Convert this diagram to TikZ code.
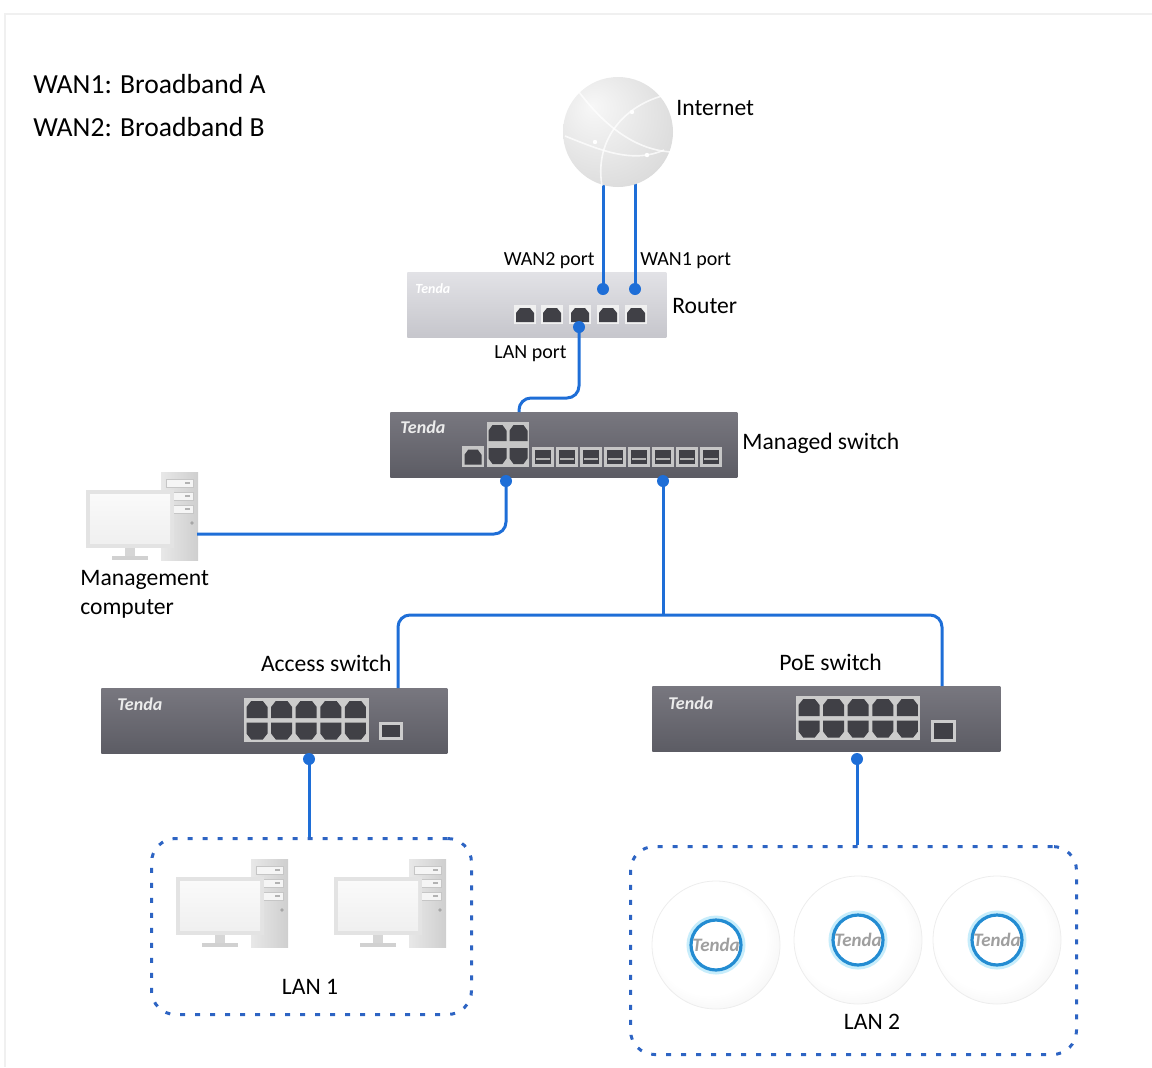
\documentclass[tikz,border=0pt]{standalone}
\usepackage{fontspec}
\setmainfont{Carlito}
\usetikzlibrary{positioning}
\definecolor{wire}{RGB}{30,110,215}
\definecolor{lanline}{RGB}{45,100,195}
\definecolor{porthole}{RGB}{64,64,70}
\definecolor{swtop}{RGB}{120,119,127}
\definecolor{swbot}{RGB}{92,92,100}
\definecolor{rttop}{RGB}{226,226,230}
\definecolor{rtbot}{RGB}{198,198,204}
\definecolor{apring}{RGB}{35,140,210}
\pgfdeclareradialshading{globeshade}{\pgfpoint{-12bp}{12bp}}{color(0bp)=(gray!6); color(14bp)=(gray!15); color(42bp)=(gray!33); color(70bp)=(gray!52)}
\pgfdeclareradialshading{apshade}{\pgfpoint{-4bp}{4bp}}{color(0bp)=(white); color(22bp)=(white); color(50bp)=(gray!28); color(60bp)=(gray!30)}
\tikzset{link/.style = {draw = wire, line width = 1.5pt, rounded corners = 6pt}}
\tikzset{circ/.style = {fill = wire, circle, inner sep = 0, minimum size = 6pt}}
\tikzset{lbl/.style = {font = \fontsize{11.8}{14}\selectfont, inner sep = 0}}
\tikzset{smalllbl/.style = {font = \fontsize{10}{12}\selectfont, inner sep = 0}}
\tikzset{legend/.style = {font = \fontsize{13.8}{16}\selectfont, inner sep = 0, anchor = base west}}
\tikzset{lanbox/.style = {rectangle, anchor = north west, inner sep = 0, draw = lanline, line width = 1.5pt,
                          dash pattern = on 2.5pt off 5pt, rounded corners = 12pt}}
\tikzset{router/.style = {rectangle, anchor = north west, top color = rttop, bottom color = rtbot,
                          minimum width = 129.5pt, minimum height = 32.5pt, inner sep = 0}}
\tikzset{switch/.style = {rectangle, anchor = north west, top color = swtop, bottom color = swbot,
                          minimum height = 32.5pt, inner sep = 0}}
\tikzset{logo/.style = {font = \fontsize{9}{10}\selectfont\itshape\bfseries, text = white!85!gray,
                        inner sep = 0, anchor = north west}}
\tikzset{globe/.style = {circle, minimum size = 55pt, inner sep = 0, shade, shading = globeshade}}
\tikzset{ap/.style = {circle, minimum size = 64pt, inner sep = 0, shade, shading = apshade, draw = gray!14}}
\tikzset{apcore/.style = {circle, minimum size = 25pt, inner sep = 0, draw = apring, line width = 1.6pt,
                          font = \fontsize{9.5}{10}\selectfont\itshape\bfseries, text = gray!75}}

\newcommand{\rjport}[4]{\fill [porthole] (#1 - #3, #2 + #4) -- (#1 - #3, #2 - 0.3*#4) -- (#1 - 0.55*#3, #2 - #4)
  -- (#1 + 0.55*#3, #2 - #4) -- (#1 + #3, #2 - 0.3*#4) -- (#1 + #3, #2 + #4) -- cycle;}
\newcommand{\deskpc}[2]{%
  \begin{scope}[shift = {(#1, #2)}]
    \shade [left color = gray!18, right color = gray!38] (75, -18) rectangle (112, 70);
    \foreach \b in {-11, 2, 15} {
      \draw [gray!45, fill = white!92!gray] (80, \b) rectangle (107, \b + 8);
      \draw [gray!60, line width = 0.8pt] (99, \b + 4) -- (104, \b + 4);
    }
    \fill [gray!70] (106, 33) circle [radius = 1.8];
    \fill [gray!22] (0, 0) rectangle (88, 58);
    \shade [top color = gray!4, bottom color = gray!12] (4, 4) rectangle (84, 53);
    \fill [gray!32] (39, 58) rectangle (49, 66);
    \fill [gray!36] (26, 66) rectangle (62, 70);
  \end{scope}}

\begin{document}
\begin{tikzpicture}[x = 0.5pt, y = -0.5pt]
      \useasboundingbox (0, 0) rectangle (1152, 1067);
      \draw [gray!12, line width = 1pt] (5, 1067) -- (5, 14) -- (1152, 14);

      \node [legend] (wan1txt) at (33, 93) {WAN1: Broadband A};
      \node [legend] (wan2txt) at (33, 136) {WAN2: Broadband B};

      \node [router] (router) at (407, 272) {};
      \node [logo, font = \fontsize{7}{8}\selectfont\itshape\bfseries, text = white] (rtlogo) at (415, 283) {Tenda};
      \foreach \x in {525, 552, 580, 608, 636} {
        \fill [white!88!gray] (\x - 11, 305) rectangle (\x + 11, 324);
        \rjport{\x}{315}{9}{7}
      }

      \node [switch, minimum width = 173.5pt] (mansw) at (390, 412) {};
      \node [logo] (manlogo) at (400, 420) {Tenda};
      \fill [gray!45] (487, 422) rectangle (529, 467);
      \rjport{497.5}{433}{9}{8}
      \rjport{518.5}{433}{9}{8}
      \rjport{497.5}{456}{9}{-8}
      \rjport{518.5}{456}{9}{-8}
      \fill [gray!45] (462, 446) rectangle (484, 467);
      \rjport{473}{457}{8.5}{7.5}
      \foreach \i in {0, ..., 7} {
        \fill [gray!45] (532 + 24*\i, 447) rectangle (554 + 24*\i, 467);
        \fill [porthole] (535 + 24*\i, 450) rectangle (551 + 24*\i, 464);
        \draw [gray!60, line width = 0.6pt] (536 + 24*\i, 459) -- (550 + 24*\i, 459);
      }

      \node [switch, minimum width = 173pt] (accsw) at (101, 688) {};
      \node [logo] (acclogo) at (117, 697) {Tenda};
      \fill [gray!40] (244, 698) rectangle (369, 742);
      \foreach \i in {0, ..., 4} {
        \rjport{257 + 24.6*\i}{709.5}{10.5}{8.5}
        \rjport{257 + 24.6*\i}{731}{10.5}{-8.5}
      }
      \fill [gray!40] (379, 722) rectangle (403, 740);
      \fill [porthole] (382, 725) rectangle (400, 737);

      \node [switch, minimum width = 174pt] (poesw) at (652, 686) {};
      \node [logo] (poelogo) at (668, 696) {Tenda};
      \fill [gray!40] (796, 696) rectangle (920, 740);
      \foreach \i in {0, ..., 4} {
        \rjport{809 + 24.6*\i}{707.5}{10.5}{8.5}
        \rjport{809 + 24.6*\i}{729}{10.5}{-8.5}
      }
      \fill [gray!40] (931, 720) rectangle (956, 742);
      \fill [porthole] (934, 723) rectangle (953, 739);

      \deskpc{86}{490}
      \deskpc{176}{877}
      \deskpc{334}{877}

      \node [lanbox, minimum width = 160pt, minimum height = 88pt] (lan1) at (150, 837) {};
      \node [lanbox, minimum width = 223pt, minimum height = 104pt] (lan2) at (629, 845) {};

      \foreach \n/\x/\y in {ap1/716/945, ap2/858/940, ap3/997/940} {
        \node [ap] (\n) at (\x, \y) {};
        \draw [cyan!22, line width = 2.5pt] (\n) circle [radius = 27];
        \node [apcore] (\n core) at (\n) {Tenda};
      }

      \coordinate (inet) at (618, 132);
      \coordinate (wan2) at (603, 289);
      \coordinate (wan1) at (635, 289);
      \coordinate (lanp) at (579, 327);
      \coordinate (mswin) at (519, 412);
      \coordinate (mdot1) at (506, 481);
      \coordinate (mdot2) at (663, 481);
      \coordinate (mgmt) at (197, 534);
      \coordinate (bus) at (663, 615);
      \coordinate (accin) at (398, 688);
      \coordinate (poein) at (942, 686);
      \coordinate (accdot) at (309, 759);
      \coordinate (poedot) at (857, 759);

      \draw [link] (inet -| wan2) -- (wan2);
      \draw [link] (inet -| wan1) -- (wan1);
      \draw [link] (lanp) -- ++(0, 71) -| (mswin);
      \draw [link] (mdot1) |- (mgmt);
      \draw [link] (mdot2) -- (bus);
      \draw [link] (accin) |- (bus) -| (poein);
      \draw [link] (accdot) -- (accdot |- lan1.north);
      \draw [link] (poedot) -- (poedot |- lan2.north);

      \node [globe] (globe) at (inet) {};
      \draw [white, line width = 0.8pt, opacity = 0.75] (662, 96) .. controls (626, 106) and (594, 138) .. (602, 186);
      \draw [white, line width = 0.8pt, opacity = 0.75] (576, 88) .. controls (598, 118) and (630, 150) .. (672, 152);
      \draw [white, line width = 0.8pt, opacity = 0.75] (565, 136) .. controls (600, 150) and (632, 164) .. (664, 150);
      \fill [white] (632, 112) circle [radius = 2.2];
      \fill [white] (595, 142) circle [radius = 2.2];
      \fill [white] (647, 155) circle [radius = 2.2];

      \foreach \d in {wan2, wan1, lanp, mdot1, mdot2, accdot, poedot} {
        \node [circ] (\d dot) at (\d) {};
      }

      \node [lbl, anchor = base west] (inettxt) at (676, 115.5) {Internet};
      \node [smalllbl, anchor = base east] (wan2txt) at (595, 265.5) {WAN2 port};
      \node [smalllbl, anchor = base west] (wan1txt) at (640, 265.5) {WAN1 port};
      \node [lbl, anchor = base west] (rttxt) at (672, 313.5) {Router};
      \node [smalllbl, anchor = base east] (lantxt) at (567, 358.5) {LAN port};
      \node [lbl, anchor = base west] (mantxt) at (742, 449.5) {Managed switch};
      \node [lbl, anchor = base west] (mgmttxt) at (80, 585.5) {Management};
      \node [lbl, anchor = base west] (comptxt) at (80, 614) {computer};
      \node [lbl, anchor = base east] (acctxt) at (392, 671.5) {Access switch};
      \node [lbl, anchor = base west] (poetxt) at (779, 670.5) {PoE switch};
      \node [lbl, anchor = base] (lan1txt) at (310, 994.5) {LAN 1};
      \node [lbl, anchor = base] (lan2txt) at (872, 1029) {LAN 2};
    \end{tikzpicture}
\end{document}
